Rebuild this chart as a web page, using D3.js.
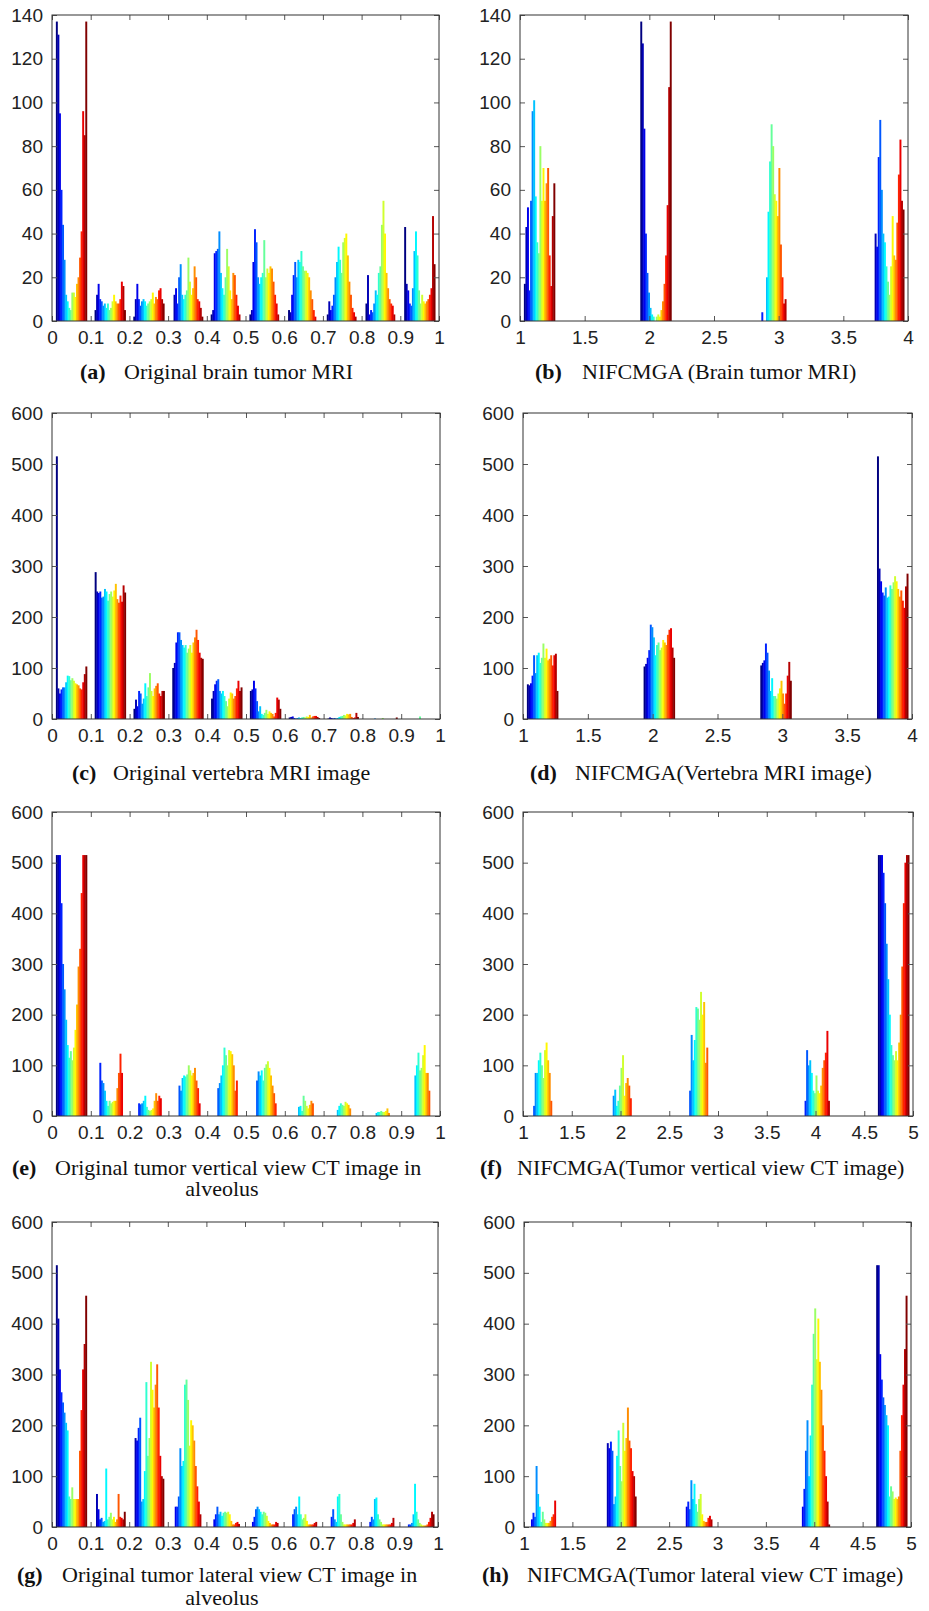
<!DOCTYPE html>
<meta charset="utf-8">
<head>
    <title>Histograms of original and NIFCMGA images</title>
    <script src="https://cdn.jsdelivr.net/npm/d3@7"></script>
    <style>
        body { margin: 0; background: #fff; }
        .tick text { font-family: "Liberation Sans", Arial, sans-serif; font-size: 19px; fill: #222; }
        .tick line { stroke: #555; }
        .caption { font-family: "Liberation Serif", "Times New Roman", serif; font-size: 22px; fill: #111; }
    </style>
</head>
<body>
<div id="chart"></div>
<script>
    // tick values
    var xTicksUnit = [0, 0.1, 0.2, 0.3, 0.4, 0.5, 0.6, 0.7, 0.8, 0.9, 1];
    var xTicks14 = [1, 1.5, 2, 2.5, 3, 3.5, 4];
    var xTicks15 = [1, 1.5, 2, 2.5, 3, 3.5, 4, 4.5, 5];
    var yTicks140 = [0, 20, 40, 60, 80, 100, 120, 140];
    var yTicks600 = [0, 100, 200, 300, 400, 500, 600];

    // bin centres (10 bins on [0,1])
    var unitCenters = [0.05, 0.15, 0.25, 0.35, 0.45, 0.55, 0.65, 0.75, 0.85, 0.95];
    // non-empty bins of the clustered label images
    var centers14 = [1.15, 2.05, 2.95, 3.85];
    var centers15 = [1.2, 2.0, 2.8, 4.0, 4.8];

    // (a) original brain tumor MRI, one row per bin, one value per image column
    var aCounts = [
        [137, 131, 95, 60, 44, 28, 12, 9, 6, 5, 13, 13, 11, 17, 20, 29, 41, 96, 85, 137],
        [5, 12, 17, 10, 9, 7, 8, 6, 8, 5, 6, 9, 12, 9, 8, 8, 10, 18, 16, 5],
        [2, 10, 17, 10, 7, 9, 10, 9, 7, 8, 9, 10, 13, 8, 11, 10, 14, 15, 10, 8],
        [0, 12, 15, 8, 20, 26, 12, 10, 12, 14, 29, 18, 12, 15, 25, 20, 10, 9, 6, 2],
        [3, 5, 31, 32, 33, 41, 22, 15, 12, 20, 33, 25, 14, 10, 22, 21, 12, 7, 3, 0],
        [3, 5, 27, 42, 36, 20, 17, 20, 22, 37, 20, 24, 22, 25, 24, 18, 12, 8, 3, 0],
        [5, 4, 12, 21, 27, 20, 28, 27, 32, 25, 23, 23, 22, 20, 14, 10, 5, 2, 0, 0],
        [3, 9, 5, 7, 12, 20, 27, 34, 28, 22, 36, 38, 40, 30, 18, 12, 6, 4, 2, 0],
        [8, 21, 3, 5, 4, 8, 14, 12, 22, 25, 44, 55, 40, 22, 15, 10, 8, 7, 3, 0],
        [43, 17, 14, 8, 7, 15, 32, 41, 30, 14, 8, 12, 9, 8, 9, 10, 12, 15, 48, 26]
    ];

    // (b) NIFCMGA brain tumor MRI
    var bCounts = [
        [17, 43, 52, 14, 55, 96, 101, 57, 36, 31, 80, 55, 70, 55, 63, 70, 30, 16, 48, 63],
        [137, 127, 88, 40, 22, 13, 6, 3, 2, 0, 2, 3, 2, 5, 9, 17, 30, 53, 107, 137],
        [0, 0, 0, 4, 0, 0, 20, 50, 73, 90, 80, 58, 55, 48, 70, 35, 20, 8, 10, 0],
        [0, 40, 34, 75, 92, 60, 40, 36, 25, 18, 12, 25, 48, 30, 28, 45, 67, 83, 55, 51]
    ];

    // (c) original vertebra MRI
    var cCounts = [
        [515, 60, 50, 58, 62, 62, 72, 85, 84, 76, 80, 75, 70, 68, 66, 60, 58, 72, 88, 103],
        [288, 250, 247, 250, 238, 240, 255, 250, 232, 245, 250, 240, 252, 265, 235, 228, 242, 230, 262, 248],
        [20, 38, 25, 55, 50, 30, 40, 70, 45, 62, 90, 55, 45, 60, 65, 70, 50, 45, 55, 55],
        [100, 110, 150, 170, 170, 155, 145, 140, 145, 130, 138, 145, 130, 150, 160, 175, 155, 130, 120, 118],
        [40, 55, 68, 75, 78, 55, 50, 55, 45, 35, 25, 40, 52, 50, 40, 45, 60, 75, 55, 62],
        [55, 58, 75, 60, 35, 15, 25, 10, 8, 12, 18, 10, 15, 12, 10, 5, 12, 42, 38, 20],
        [3, 4, 5, 2, 1, 2, 3, 2, 3, 4, 3, 5, 4, 8, 3, 5, 6, 6, 4, 2],
        [1, 3, 2, 1, 2, 1, 2, 4, 5, 6, 8, 7, 10, 9, 10, 4, 2, 3, 12, 4],
        [0, 0, 0, 0, 0, 1, 0, 0, 0, 0, 2, 0, 0, 0, 0, 0, 0, 0, 0, 3],
        [0, 0, 0, 0, 0, 0, 0, 0, 0, 5, 0, 0, 0, 0, 0, 0, 0, 0, 0, 0]
    ];

    // (d) NIFCMGA vertebra MRI
    var dCounts = [
        [68, 66, 70, 85, 125, 90, 125, 130, 110, 120, 148, 120, 138, 115, 118, 125, 105, 125, 128, 55],
        [103, 108, 120, 135, 185, 180, 160, 125, 145, 150, 135, 140, 155, 150, 145, 165, 175, 178, 140, 120],
        [105, 110, 115, 148, 130, 95, 55, 80, 45, 45, 40, 50, 60, 75, 50, 30, 50, 85, 112, 75],
        [515, 295, 270, 248, 242, 258, 238, 240, 262, 255, 268, 280, 270, 255, 240, 252, 232, 218, 260, 285]
    ];

    // (e) original tumor vertical view CT
    var eCounts = [
        [515, 515, 515, 420, 300, 250, 190, 140, 115, 128, 110, 135, 170, 220, 295, 330, 440, 515, 515, 515],
        [0, 0, 0, 105, 70, 65, 50, 30, 20, 30, 25, 28, 30, 30, 55, 85, 123, 85, 0, 0],
        [0, 0, 0, 25, 23, 25, 30, 40, 18, 12, 10, 12, 15, 30, 45, 30, 40, 35, 0, 0],
        [0, 0, 0, 0, 60, 50, 75, 80, 78, 82, 100, 90, 80, 85, 95, 70, 55, 25, 0, 0],
        [0, 0, 0, 0, 55, 65, 80, 100, 135, 120, 100, 130, 128, 122, 100, 50, 70, 0, 0, 0],
        [0, 0, 0, 0, 70, 88, 80, 90, 70, 95, 102, 108, 95, 80, 60, 45, 25, 0, 0, 0],
        [0, 0, 0, 0, 0, 0, 18, 20, 10, 40, 30, 20, 15, 22, 30, 25, 0, 0, 0, 0],
        [0, 0, 0, 0, 0, 0, 12, 20, 25, 22, 20, 28, 25, 22, 15, 0, 0, 0, 0, 0],
        [0, 0, 0, 0, 0, 0, 6, 8, 8, 10, 8, 8, 10, 15, 6, 0, 0, 0, 0, 0],
        [0, 0, 0, 0, 0, 0, 80, 100, 125, 90, 95, 120, 140, 85, 85, 50, 0, 0, 0, 0]
    ];

    // (f) NIFCMGA tumor vertical view CT
    var fCounts = [
        [0, 0, 0, 0, 20, 85, 85, 110, 125, 100, 75, 130, 145, 110, 85, 30, 0, 0, 0, 0],
        [0, 0, 0, 0, 0, 40, 52, 20, 30, 60, 95, 120, 40, 65, 75, 60, 35, 0, 0, 0],
        [0, 0, 0, 0, 50, 160, 110, 150, 215, 212, 190, 245, 200, 225, 105, 135, 0, 0, 0, 0],
        [0, 0, 0, 30, 130, 100, 110, 85, 50, 45, 80, 50, 45, 60, 95, 110, 125, 168, 30, 0],
        [515, 515, 515, 480, 420, 340, 270, 200, 140, 120, 110, 128, 110, 145, 200, 295, 420, 500, 515, 515]
    ];

    // (g) original tumor lateral view CT
    var gCounts = [
        [515, 410, 310, 265, 245, 225, 205, 190, 60, 55, 78, 55, 55, 55, 55, 150, 230, 310, 360, 455],
        [0, 65, 35, 15, 18, 10, 12, 115, 15, 20, 28, 15, 20, 10, 15, 65, 20, 18, 15, 30],
        [0, 175, 170, 195, 215, 50, 55, 110, 285, 140, 175, 325, 270, 235, 280, 320, 235, 140, 100, 95],
        [0, 0, 40, 40, 60, 155, 120, 130, 280, 290, 250, 160, 210, 200, 170, 120, 80, 50, 25, 0],
        [0, 0, 15, 25, 40, 25, 30, 22, 28, 30, 28, 30, 25, 12, 5, 5, 8, 10, 6, 0],
        [0, 0, 10, 20, 35, 40, 35, 30, 25, 30, 28, 22, 12, 8, 5, 5, 5, 10, 8, 0],
        [0, 0, 0, 25, 35, 40, 25, 60, 25, 15, 18, 25, 12, 5, 5, 5, 5, 8, 10, 0],
        [0, 0, 0, 20, 35, 15, 10, 60, 65, 25, 10, 5, 5, 5, 5, 5, 5, 8, 15, 0],
        [0, 0, 0, 10, 20, 15, 55, 58, 25, 15, 10, 5, 5, 5, 5, 5, 5, 8, 18, 0],
        [0, 0, 0, 5, 5, 8, 25, 85, 30, 15, 8, 5, 3, 3, 3, 5, 10, 18, 30, 25]
    ];

    // (h) NIFCMGA tumor lateral view CT
    var hCounts = [
        [0, 0, 15, 28, 20, 120, 65, 40, 10, 30, 15, 8, 8, 8, 12, 20, 25, 52, 0, 0],
        [0, 165, 155, 168, 150, 45, 60, 140, 190, 120, 90, 205, 150, 175, 235, 170, 155, 110, 100, 60],
        [0, 0, 40, 50, 35, 92, 55, 85, 45, 30, 55, 65, 25, 12, 10, 10, 18, 22, 15, 0],
        [0, 0, 40, 75, 150, 210, 100, 180, 280, 380, 430, 330, 410, 325, 270, 200, 150, 100, 50, 5],
        [515, 515, 340, 290, 255, 240, 220, 200, 60, 80, 70, 55, 58, 55, 60, 150, 220, 280, 350, 455]
    ];

    var captionLetters = ["(a)", "(b)", "(c)", "(d)", "(e)", "(f)", "(g)", "(h)"];
    var captionTexts = [
        "Original brain tumor MRI",
        "NIFCMGA (Brain tumor MRI)",
        "Original vertebra MRI image",
        "NIFCMGA(Vertebra MRI image)",
        "Original tumor vertical view CT image in",
        "NIFCMGA(Tumor vertical view CT image)",
        "Original tumor lateral view CT image in",
        "NIFCMGA(Tumor lateral view CT image)"
    ];
    var captionSecond = ["", "", "", "", "alveolus", "", "alveolus", ""];

    var width = 929;
    var height = 1611;

    var svg = d3.select("#chart")
        .append("svg")
        .attr("width", width)
        .attr("height", height);

    svg.append("rect").attr("width", width).attr("height", height).attr("fill", "#fff");

    // panel layout: plot box [left, top, right, bottom]
    var panels = [
        { box: [52, 15, 439, 321], xDomain: [0, 1], xTicks: xTicksUnit, yMax: 140, yTicks: yTicks140, binWidth: 0.1, centers: unitCenters, counts: aCounts },
        { box: [520, 15, 908, 321], xDomain: [1, 4], xTicks: xTicks14, yMax: 140, yTicks: yTicks140, binWidth: 0.3, centers: centers14, counts: bCounts },
        { box: [52, 413, 440, 719], xDomain: [0, 1], xTicks: xTicksUnit, yMax: 600, yTicks: yTicks600, binWidth: 0.1, centers: unitCenters, counts: cCounts },
        { box: [523, 413, 912, 719], xDomain: [1, 4], xTicks: xTicks14, yMax: 600, yTicks: yTicks600, binWidth: 0.3, centers: centers14, counts: dCounts },
        { box: [52, 812, 440, 1116], xDomain: [0, 1], xTicks: xTicksUnit, yMax: 600, yTicks: yTicks600, binWidth: 0.1, centers: unitCenters, counts: eCounts },
        { box: [523, 812, 913, 1116], xDomain: [1, 5], xTicks: xTicks15, yMax: 600, yTicks: yTicks600, binWidth: 0.4, centers: centers15, counts: fCounts },
        { box: [52, 1222, 438, 1527], xDomain: [0, 1], xTicks: xTicksUnit, yMax: 600, yTicks: yTicks600, binWidth: 0.1, centers: unitCenters, counts: gCounts },
        { box: [524, 1222, 911, 1527], xDomain: [1, 5], xTicks: xTicks15, yMax: 600, yTicks: yTicks600, binWidth: 0.4, centers: centers15, counts: hCounts }
    ];

    // caption positions: [letter x, text x, baseline y]
    var captionPos = [[80, 124, 379], [535, 582, 379], [72, 113, 780], [530, 575, 780],
                      [12, 55, 1175], [480, 517, 1175], [17, 62, 1582], [482, 527, 1582]];
    var secondPos = [222, 1196];
    var secondPosG = [222, 1605];

    // MATLAB jet colormap
    function jet(t) {
        function c(v) { return Math.max(0, Math.min(1, v)); }
        var r = c(1.5 - Math.abs(4 * t - 3));
        var g = c(1.5 - Math.abs(4 * t - 2));
        var b = c(1.5 - Math.abs(4 * t - 1));
        return d3.rgb(r * 255, g * 255, b * 255).toString();
    }

    panels.forEach(function (p, pi) {
        var left = p.box[0], top = p.box[1], right = p.box[2], bottom = p.box[3];

        var x = d3.scaleLinear().domain(p.xDomain).range([left, right]);
        var y = d3.scaleLinear().domain([0, p.yMax]).range([bottom, top]);

        var g = svg.append("g").attr("class", "panel");

        // bars: each bin holds one bar per image column, coloured with jet
        var groupWidth = 0.8 * p.binWidth;
        var bars = [];
        p.counts.forEach(function (row, gi) {
            var n = row.length;
            var bw = groupWidth / n;
            var start = p.centers[gi] - groupWidth / 2;
            row.forEach(function (v, i) {
                bars.push({ x0: start + i * bw, x1: start + (i + 1) * bw, v: v, t: i / (n - 1) });
            });
        });

        g.selectAll("rect.bar")
            .data(bars.filter(function (d) { return d.v > 0; }))
            .enter()
            .append("rect")
            .attr("class", "bar")
            .attr("x", function (d) { return x(d.x0); })
            .attr("width", function (d) { return x(d.x1) - x(d.x0) + 0.4; })
            .attr("y", function (d) { return y(d.v); })
            .attr("height", function (d) { return y(0) - y(d.v); })
            .attr("fill", function (d) { return jet(d.t); });

        // axes with inward ticks on all four sides
        var gx = g.append("g")
            .attr("transform", "translate(0," + bottom + ")")
            .call(d3.axisBottom(x).tickValues(p.xTicks).tickSize(-5).tickSizeOuter(0)
                .tickPadding(10).tickFormat(d3.format("~g")));
        gx.select(".domain").remove();

        var gy = g.append("g")
            .attr("transform", "translate(" + left + ",0)")
            .call(d3.axisLeft(y).tickValues(p.yTicks).tickSize(-5).tickSizeOuter(0)
                .tickPadding(9).tickFormat(d3.format("d")));
        gy.select(".domain").remove();

        var gt = g.append("g")
            .attr("transform", "translate(0," + top + ")")
            .call(d3.axisTop(x).tickValues(p.xTicks).tickSize(-5).tickSizeOuter(0).tickFormat(""));
        gt.select(".domain").remove();

        var gr = g.append("g")
            .attr("transform", "translate(" + right + ",0)")
            .call(d3.axisRight(y).tickValues(p.yTicks).tickSize(-5).tickSizeOuter(0).tickFormat(""));
        gr.select(".domain").remove();

        g.selectAll(".tick text").attr("font-family", null).attr("font-size", null);

        // frame
        g.append("rect")
            .attr("x", left)
            .attr("y", top)
            .attr("width", right - left)
            .attr("height", bottom - top)
            .attr("fill", "none")
            .attr("stroke", "#333")
            .attr("stroke-width", 1);

        // caption
        var cp = captionPos[pi];
        var cap = svg.append("text").attr("class", "caption").attr("y", cp[2]);
        cap.append("tspan").attr("x", cp[0]).attr("font-weight", "bold").text(captionLetters[pi]);
        cap.append("tspan").attr("x", cp[1]).text(captionTexts[pi]);

        if (captionSecond[pi] !== "") {
            var sp = pi === 4 ? secondPos : secondPosG;
            svg.append("text")
                .attr("class", "caption")
                .attr("x", sp[0])
                .attr("y", sp[1])
                .attr("text-anchor", "middle")
                .text(captionSecond[pi]);
        }
    });
</script>
</body>
</html>
